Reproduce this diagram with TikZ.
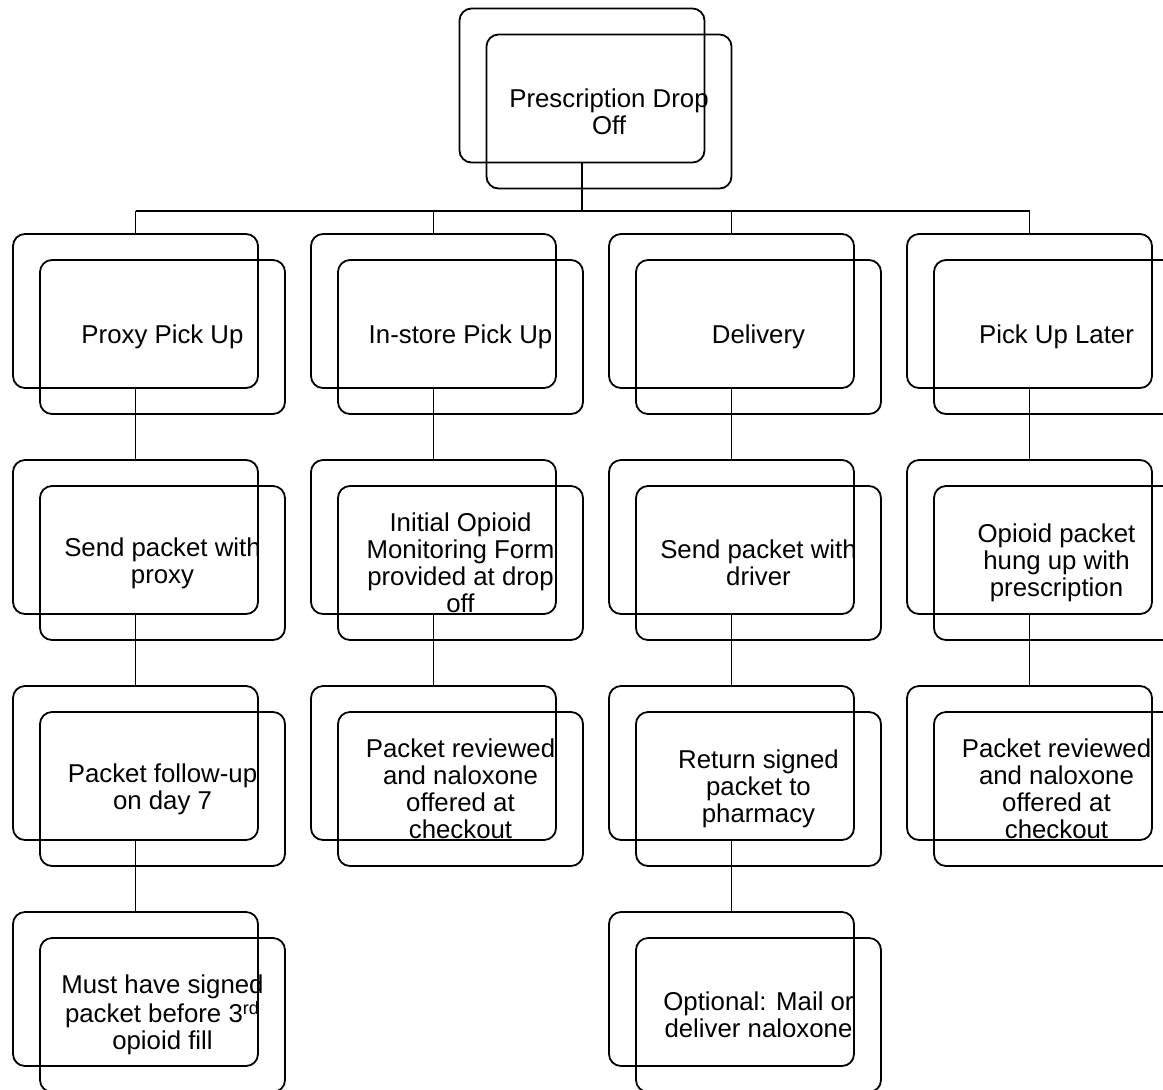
\documentclass[tikz,border=0pt]{standalone}
\usepackage{fontspec}
\setmainfont{Liberation Sans}
\usetikzlibrary{positioning}

\tikzset{
   backbox/.style={draw, rounded corners=6pt, line width=0.9pt,
      minimum width=122.5pt, minimum height=77pt, inner sep=0pt, outer sep=0pt},
   frontbox/.style={backbox, align=center,
      font=\fontsize{12.9}{13.5}\selectfont},
   link/.style={line width=0.9pt}
}

\begin{document}
\begin{tikzpicture}[x=0.5pt, y=-0.5pt]
            \useasboundingbox (0,0) rectangle (1163,1089);
            % Top box
            \node[backbox] (dropback) at (582,85.5) {};
            \node[frontbox] (drop) at (609,111.5) {Prescription Drop\\Off};
            % Column 1: proxy
            \node[backbox] (proxyback) at (135.5,311) {};
            \node[frontbox] (proxy) at (162.5,337) {Proxy Pick Up};
            \node[backbox] (sendproxyback) at (135.5,537) {};
            \node[frontbox] (sendproxy) at (162.5,563) {Send packet with\\proxy};
            \node[backbox] (followback) at (135.5,763) {};
            \node[frontbox] (follow) at (162.5,789) {Packet follow-up\\on day 7};
            \node[backbox] (thirdback) at (135.5,989) {};
            \node[frontbox] (third) at (162.5,1015) {Must have signed\\packet before 3\textsuperscript{rd}\\opioid fill};
            % Column 2: in-store
            \node[backbox] (instoreback) at (433.5,311) {};
            \node[frontbox] (instore) at (460.5,337) {In-store Pick Up};
            \node[backbox] (formback) at (433.5,537) {};
            \node[frontbox] (form) at (460.5,563) {Initial Opioid\\Monitoring Form\\provided at drop\\off};
            \node[backbox] (reviewback) at (433.5,763) {};
            \node[frontbox] (review) at (460.5,789) {Packet reviewed\\and naloxone\\offered at\\checkout};
            % Column 3: delivery
            \node[backbox] (deliveryback) at (731.5,311) {};
            \node[frontbox] (delivery) at (758.5,337) {Delivery};
            \node[backbox] (driverback) at (731.5,537) {};
            \node[frontbox] (driver) at (758.5,563) {Send packet with\\driver};
            \node[backbox] (returnback) at (731.5,763) {};
            \node[frontbox] (return) at (758.5,789) {Return signed\\packet to\\pharmacy};
            \node[backbox] (mailback) at (731.5,989) {};
            \node[frontbox] (mail) at (758.5,1015) {Optional: Mail or\\deliver naloxone};
            % Column 4: pick up later
            \node[backbox] (laterback) at (1029.5,311) {};
            \node[frontbox] (later) at (1056.5,337) {Pick Up Later};
            \node[backbox] (hungback) at (1029.5,537) {};
            \node[frontbox] (hung) at (1056.5,563) {Opioid packet\\hung up with\\prescription};
            \node[backbox] (checkback) at (1029.5,763) {};
            \node[frontbox] (check) at (1056.5,789) {Packet reviewed\\and naloxone\\offered at\\checkout};
            % Bus line under the top box
            \coordinate (busL) at (135.5,211);
            \coordinate (busR) at (1029.5,211);
            \draw[link] (busL) -- (busR);
            \draw[link] (dropback.south) -- (dropback.south |- busL);
            \draw[link] (proxyback.north) -- (proxyback.north |- busL);
            \draw[link] (instoreback.north) -- (instoreback.north |- busL);
            \draw[link] (deliveryback.north) -- (deliveryback.north |- busL);
            \draw[link] (laterback.north) -- (laterback.north |- busL);
            % Links down each column
            \draw[link] (proxyback.south) -- (sendproxyback.north);
            \draw[link] (sendproxyback.south) -- (followback.north);
            \draw[link] (followback.south) -- (thirdback.north);
            \draw[link] (instoreback.south) -- (formback.north);
            \draw[link] (formback.south) -- (reviewback.north);
            \draw[link] (deliveryback.south) -- (driverback.north);
            \draw[link] (driverback.south) -- (returnback.north);
            \draw[link] (returnback.south) -- (mailback.north);
            \draw[link] (laterback.south) -- (hungback.north);
            \draw[link] (hungback.south) -- (checkback.north);
         \end{tikzpicture}
\end{document}
